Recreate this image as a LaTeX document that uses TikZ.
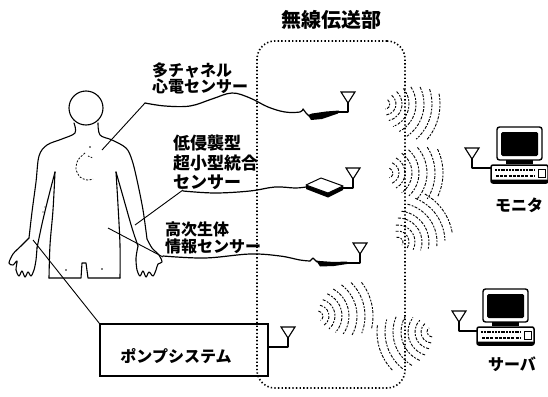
\documentclass[tikz,border=0pt]{standalone}
\usepackage{fontspec}
\newfontfamily\jp{Noto Sans CJK JP}
% concentric dashed arcs: centre, main direction, radii
\newcommand\radiowaves[3]{%
  \foreach \r in {#3}{
    \pgfmathsetmacro\hs{78-0.95*\r}
    \pgfmathsetmacro\sa{#2-\hs}
    \pgfmathsetmacro\ea{#2+\hs}
    \draw[wave] ([shift={(\sa:\r)}]#1) arc[start angle=\sa, end angle=\ea, radius=\r];}}
\tikzset{
  antenna/.pic={
    \draw[line width=1.1pt] (0,0) -- (0,-9);
    \draw[line width=1.1pt, line join=miter] (0,-9) -- (-7,-20) -- (7,-20) -- cycle;
  },
  terminal/.pic={
    % monitor housing and screen
    \draw[line width=1.4pt, fill=white, rounded corners=2.5pt] (6,-38) rectangle (51,-5);
    \fill[rounded corners=1.5pt] (10,-33) rectangle (47,-9);
    \fill (15,-5) rectangle (42,-1.5);
    % keyboard
    \draw[line width=1.5pt, fill=white, rounded corners=2pt] (0,0) rectangle (57,18);
    \draw[line width=2.6pt, dash pattern=on 2pt off 0.8pt] (4,5) -- (44,5);
    \draw[line width=1.4pt, dash pattern=on 3pt off 1.2pt] (5,11) -- (44,11);
    \fill[rounded corners=1pt] (0,14.5) rectangle (57,18);
    \draw[line width=1pt] (47,4) rectangle (54,12);
  }
}
\begin{document}
\begin{tikzpicture}[x=1pt, y=-1pt,
  outline/.style={line width=1.1pt, line join=round, line cap=round},
  wire/.style={line width=1.2pt, line join=round, line cap=round},
  lead/.style={line width=0.9pt},
  wave/.style={line width=0.9pt, dash pattern=on 3pt off 1.5pt on 1.8pt off 1.3pt},
  zone/.style={draw, line width=1.6pt, dash pattern=on 1.4pt off 2.2pt,
               rounded corners=18pt, inner sep=0pt},
  lbl/.style={inner sep=0pt, align=left, font=\jp\bfseries\fontsize{16}{15}\selectfont},
]
\useasboundingbox (0,0) rectangle (548,396);

% wireless transmission area
\node[zone, minimum width=148pt, minimum height=347pt] (zone) at (331,214.5) {};
\node[inner sep=0pt, font=\jp\bfseries\fontsize{20}{20}\selectfont] (title) at (331,20) {無線伝送部};

% human body
\draw[outline] (86,108) ellipse [x radius=17, y radius=17];
\draw[outline] plot[smooth, tension=0.55] coordinates
  {(74,123) (75,133) (62,139) (47,145) (39,156) (36,182) (32,212) (29,238)};
\draw[outline] plot[smooth, tension=0.5] coordinates
  {(29,238) (21,246) (13,254) (9,263) (13,265) (17,261) (16,270) (19,276) (22,271)
   (25,277) (28,272) (31,276) (34,270) (36,260) (37,248)};
\draw[outline] plot[smooth, tension=0.55] coordinates
  {(37,248) (42,224) (48,199) (55,172)};
\draw[outline] plot[smooth, tension=0.55] coordinates
  {(55,172) (53,210) (50,245) (49,278)};
\draw[outline] (49,278) -- (81,278) -- (82,263) -- (86,263) -- (88,278) -- (120,278);
\draw[outline] plot[smooth, tension=0.55] coordinates
  {(120,278) (120,245) (118,205) (116,172)};
\draw[outline] plot[smooth, tension=0.55] coordinates
  {(116,172) (124,200) (132,228) (138,246)};
\draw[outline] plot[smooth, tension=0.5] coordinates
  {(138,246) (136,258) (137,270) (140,276) (143,271) (146,277) (149,272) (153,276)
   (156,270) (158,264) (162,262) (159,255) (152,248) (147,239)};
\draw[outline] plot[smooth, tension=0.55] coordinates
  {(147,239) (143,210) (137,180) (132,160) (126,148) (112,140) (100,135) (98,123)};
% heart and electrode marks
\draw[line width=0.8pt, dash pattern=on 2pt off 1.5pt] plot[smooth] coordinates
  {(85,153) (78,160) (76,169) (80,177) (87,180) (93,179)};
\draw[line width=0.8pt, dash pattern=on 1.5pt off 1.5pt] (88,156) -- (93,158);
\fill (90,147) circle (0.8);
\fill (45,207) circle (0.7);
\fill (43,212) circle (0.7);
\fill (66,270) circle (0.8);
\fill (102,269) circle (0.8);

% attachment points on the body
\coordinate (chest) at (102,150);
\coordinate (waist) at (135,225);
\coordinate (belly) at (108,228);
\coordinate (arm)   at (33,240);

% labels
\node[lbl, anchor=west] (lab1) at (152,78.5) {多チャネル\\心電センサー};
\node[lbl, anchor=west, font=\jp\bfseries\fontsize{17}{19.5}\selectfont] (lab2) at (173,162.5)
  {低侵襲型\\超小型統合\\センサー};
\node[lbl, anchor=west, font=\jp\bfseries\fontsize{16}{17}\selectfont] (lab3) at (165,237.5)
  {高次生体\\情報センサー};

% sensor 1: multichannel ECG
\coordinate (w1) at (145,103);
\coordinate (a1) at (348,112);
\draw[lead] (chest) -- (w1);
\draw[wire] plot[smooth, tension=0.6] coordinates
  {(145,103) (165,106) (190,106) (212,99) (232,93) (250,98) (268,107) (285,112) (300,112) (303,109)};
\draw[wire] (303,109) -- (306,113) -- (309,116);
\fill (308,115) -- (311,120) -- (322,119) -- (338,113.5) -- (339,110.5) -- (326,111.5) -- (312,113.5) -- cycle;
\draw[wire] (338,112) -- (a1);
\pic at (a1) {antenna};

% sensor 2: small integrated sensor
\coordinate (w2) at (183,190);
\coordinate (a2) at (353,188);
\draw[lead] (waist) -- (w2);
\draw[wire] plot[smooth, tension=0.6] coordinates
  {(183,191) (215,193) (250,191) (275,187) (295,188) (306,187)};
\fill (306,185) -- (328,193) -- (343,186) -- (343,190) -- (328,197.5) -- (306,189) -- cycle;
\draw[line width=1pt, fill=white, line join=round] (306,185) -- (321,178) -- (343,186) -- (328,193) -- cycle;
\draw[wire] (343,188) -- (a2);
\pic at (a2) {antenna};

% sensor 3: biological information sensor
\coordinate (w3) at (163,257);
\coordinate (a3) at (360,263);
\draw[lead] (belly) -- (w3);
\draw[wire] plot[smooth, tension=0.6] coordinates
  {(163,256) (205,258) (250,254) (280,256) (300,260) (310,261)};
\draw[wire] (310,261) -- (313,258) -- (317,262);
\fill (316,260.5) -- (320,266.5) -- (334,266) -- (347,264) -- (347,261.5) -- (334,262) -- (320,261) -- cycle;
\draw[wire] (346,263) -- (a3);
\pic at (a3) {antenna};

% pump system
\node[draw, line width=1.3pt, minimum width=168pt, minimum height=52pt, inner sep=0pt] (pump) at (184,350) {};
\node[lbl] (pumptxt) at (176,356) {ポンプシステム};
\coordinate (pa) at (288,347);
\draw[lead] (arm) -- (pump.north west);
\draw[wire] (pump.east |- pa) -- (pa);
\pic at (pa) {antenna};

% radio waves
\coordinate (g1) at (385,104);
\coordinate (g2) at (388,173);
\coordinate (g3) at (398,242);
\coordinate (g4) at (318,316);
\coordinate (g5) at (432,332);
\radiowaves{g1}{15}{5,11,17,24,31,39,47,55}
\radiowaves{g2}{0}{5,11,17,24,31,39,47,55}
\radiowaves{g3}{-35}{5,11,17,24,31,39,47,55}
\radiowaves{g4}{-12}{5,11,17,24,31,39,47,55}
\radiowaves{g5}{162}{5,11,17,24,31,39,47,55}

% monitor
\coordinate (am) at (472,168);
\coordinate (km) at (491,168);
\pic at (491,165) {terminal};
\draw[wire] (am) -- (km);
\pic at (am) {antenna};
\node[lbl] (mon) at (519,205) {モニタ};

% server
\coordinate (as) at (459,331);
\coordinate (ks) at (477,331);
\pic at (477,327) {terminal};
\draw[wire] (as) -- (ks);
\pic at (as) {antenna};
\node[lbl] (srv) at (512,364) {サーバ};
\end{tikzpicture}
\end{document}
